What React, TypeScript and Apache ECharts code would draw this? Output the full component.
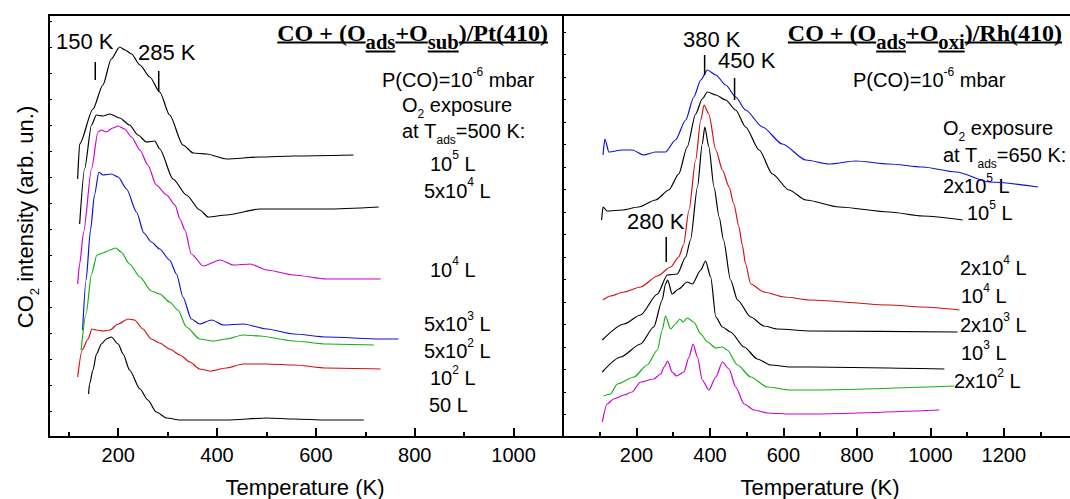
import React, { useEffect, useRef } from "react";
import * as echarts from "echarts";

const SANS = '"Liberation Sans", Arial, Helvetica, sans-serif';
const SERIF = '"Liberation Serif", "Times New Roman", Times, serif';

const BLACK = "#000000";
const MAGENTA = "#cc00cc";
const BLUE = "#1010d8";
const GREEN = "#12b012";
const RED = "#d01010";

// ---- Pt(410) panel: [temperature (K), CO2 intensity (arb. un.)] ----
const pt1e5: [number, number][] = [[118,258],[122,293],[149,328],[169,352],[186,378],[203,390],[214,387],[227,383],[244,372],[264,360],[284,345],[304,322],[331,292],[352,284],[379,283],[419,278],[487,280],[555,281],[676,282]];
const pt5e4: [number, number][] = [[122,213],[132,268],[146,312],[156,322],[169,321],[183,323],[203,319],[223,312],[240,302],[257,295],[274,296],[284,288],[311,258],[338,242],[365,227],[382,220],[419,222],[487,228],[555,228],[622,228],[727,230]];
const pt1e4: [number, number][] = [[118,153],[122,173],[130,205],[146,268],[159,305],[166,307],[176,305],[189,309],[200,311],[213,308],[227,300],[244,287],[260,272],[277,252],[298,242],[315,232],[325,218],[335,207],[348,183],[372,171],[406,177],[433,172],[467,173],[501,167],[555,162],[622,158],[731,158]];
const pt5e3: [number, number][] = [[128,107],[135,157],[144,207],[152,242],[161,265],[169,262],[186,263],[200,260],[217,248],[237,225],[252,204],[267,195],[284,188],[304,177],[318,163],[331,140],[348,118],[365,113],[389,117],[413,112],[453,113],[501,108],[555,103],[622,100],[731,98],[767,98]];
const pt5e2: [number, number][] = [[125,87],[135,123],[146,163],[157,182],[169,184],[183,187],[195,189],[206,185],[223,173],[244,160],[267,146],[284,143],[304,135],[321,127],[338,110],[365,98],[392,96],[419,98],[453,102],[487,101],[555,96],[622,93],[717,92]];
const pt1e2: [number, number][] = [[118,60],[127,87],[139,98],[147,108],[156,107],[169,106],[183,107],[200,113],[220,118],[233,117],[250,108],[267,98],[284,94],[304,88],[325,82],[345,75],[365,68],[386,66],[419,69],[453,73],[501,73],[555,72],[622,69],[731,68]];
const pt50: [number, number][] = [[140,43],[142,53],[149,67],[156,83],[166,93],[176,98],[186,100],[200,93],[210,83],[223,67],[244,48],[260,37],[277,25],[298,19],[325,17],[365,17],[419,17],[501,19],[555,18],[622,17],[697,17]];

// ---- Rh(410) panel ----
const rh2e5: [number, number][] = [[109,282],[114,298],[125,285],[161,287],[188,287],[220,282],[252,285],[279,285],[306,297],[334,317],[356,340],[375,357],[393,367],[416,362],[443,352],[470,340],[497,327],[543,310],[597,293],[661,277],[724,273],[797,276],[888,273],[979,270],[1070,265],[1161,255],[1293,250]];
const rh1e5: [number, number][] = [[105,217],[109,230],[120,226],[161,227],[206,230],[252,237],[288,247],[315,263],[338,290],[361,323],[379,338],[393,345],[416,342],[443,337],[470,327],[497,310],[534,287],[570,263],[615,247],[661,237],[752,230],[888,225],[979,221],[1088,217]];
const rh2e4: [number, number][] = [[109,137],[129,141],[166,145],[211,150],[257,161],[293,170],[315,180],[328,192],[343,227],[361,277],[375,317],[384,332],[397,323],[416,287],[434,267],[452,250],[465,233],[479,210],[488,192],[497,173],[511,153],[547,145],[602,140],[675,137],[888,132],[979,130],[1079,127]];
const rh1e4: [number, number][] = [[107,97],[166,113],[211,122],[257,143],[284,162],[311,163],[334,180],[347,197],[366,250],[379,293],[386,310],[397,290],[411,250],[425,220],[437,197],[456,157],[475,137],[511,120],[547,111],[584,108],[675,106],[1074,105]];
const rh2e3: [number, number][] = [[107,65],[157,80],[211,93],[247,110],[270,137],[279,153],[285,157],[297,143],[315,148],[338,155],[352,153],[375,167],[388,176],[402,160],[416,120],[434,110],[456,105],[493,90],[529,78],[565,72],[620,70],[675,70],[1038,68]];
const rh1e3: [number, number][] = [[111,41],[129,43],[148,53],[193,60],[229,72],[257,87],[270,107],[279,121],[293,108],[306,113],[318,118],[327,115],[338,119],[356,115],[375,103],[393,95],[416,89],[434,90],[447,87],[475,72],[511,60],[556,50],[620,47],[675,47],[1065,51]];
const rh2e2: [number, number][] = [[107,15],[120,33],[138,38],[166,42],[188,45],[211,55],[247,58],[266,63],[275,70],[285,76],[297,65],[309,61],[329,65],[343,80],[354,93],[366,80],[379,57],[397,47],[416,60],[434,75],[452,68],[470,50],[493,33],[520,27],[556,24],[620,23],[675,23],[1024,27]];

// peak markers: [temperature, intensity from, intensity to]
const ptMarks: [number, number, number][] = [[153.6, 357, 375], [282, 345, 366]];
const rhMarks: [number, number, number][] = [[385.5, 362, 382], [467, 337, 359], [281, 175, 200]];

// axes
const ptRange = [60, 1100];
const rhRange = [0, 1380];
const intensityMax = 422;
const ptMajor = [200, 400, 600, 800, 1000];
const ptMinor = [100, 300, 500, 700, 900];
const rhMajor = [200, 400, 600, 800, 1000, 1200];
const rhMinor = [100, 300, 500, 700, 900, 1100, 1300];

type Kind = "n" | "sup" | "sub";
type Part = [string, Kind?];

let ctx: CanvasRenderingContext2D | null = null;
function measure(text: string, size: number, family: string, weight: string): number {
  if (!ctx) ctx = document.createElement("canvas").getContext("2d");
  if (!ctx) return text.length * size * 0.55;
  ctx.font = `${weight} ${size}px ${family}`;
  return ctx.measureText(text).width;
}

function run(parts: Part[], x: number, y: number, size: number, align: "left" | "center" | "right" = "left",
  family = SANS, weight = "normal", subScale = 0.6, supDy = -0.42, subDy = 0.45): any[] {
  const items = parts.map(([t, k]) => {
    const kind = k || "n";
    const s = kind === "n" ? size : size * subScale;
    return { t, kind, s, w: measure(t, s, family, weight) };
  });
  const total = items.reduce((a, b) => a + b.w, 0);
  let cx = align === "left" ? x : align === "center" ? x - total / 2 : x - total;
  return items.map((it) => {
    const dy = it.kind === "sup" ? supDy * size : it.kind === "sub" ? subDy * size : 0;
    const el = {
      type: "text", x: cx, y: y + dy, silent: true,
      style: { text: it.t, fontSize: it.s, fontFamily: family, fontWeight: weight, fill: "#000",
        textAlign: "left", textVerticalAlign: "middle", verticalAlign: "middle" },
      _w: it.w, _kind: it.kind,
    };
    cx += it.w;
    return el;
  });
}

function title(parts: Part[], xRight: number, y: number): any[] {
  const size = 24;
  const els = run(parts, xRight, y, size, "right", SERIF, "bold", 0.86, 0, 0.36);
  const lines: any[] = [];
  els.forEach((e) => {
    const uy = e._kind === "sub" ? y + 18.5 : y + 9.5;
    lines.push({ type: "line", silent: true, shape: { x1: e.x, y1: uy, x2: e.x + e._w, y2: uy }, style: { stroke: "#000", lineWidth: 2 } });
  });
  return [...els.map(({ _w, _kind, ...r }) => r), ...lines];
}

function clean(els: any[]) {
  return els.map(({ _w, _kind, ...r }) => r);
}

function buildOption() {
  const L = 20;
  const g: any[] = [];
  g.push({ type: "line", silent: true, shape: { x1: 48, y1: 15, x2: 1070, y2: 15 }, style: { stroke: "#000", lineWidth: 2 } });
  // Pt panel texts
  g.push(...clean(run([["150 K"]], 56, 41, 22)));
  g.push(...clean(run([["285 K"]], 138, 52, 22)));
  g.push(...title([["CO + (O"], ["ads", "sub"], ["+O"], ["sub", "sub"], [")/Pt(410)"]], 548, 33));
  g.push(...clean(run([["P(CO)=10"], ["-6", "sup"], [" mbar"]], 382, 80, L)));
  g.push(...clean(run([["O"], ["2", "sub"], [" exposure"]], 402, 104.5, L)));
  g.push(...clean(run([["at T"], ["ads", "sub"], ["=500 K:"]], 402, 130.5, L)));
  g.push(...clean(run([["10"], ["5", "sup"], [" L"]], 430, 163.5, L)));
  g.push(...clean(run([["5x10"], ["4", "sup"], [" L"]], 424, 190.5, L)));
  g.push(...clean(run([["10"], ["4", "sup"], [" L"]], 430, 269.5, L)));
  g.push(...clean(run([["5x10"], ["3", "sup"], [" L"]], 424, 324, L)));
  g.push(...clean(run([["5x10"], ["2", "sup"], [" L"]], 424, 351, L)));
  g.push(...clean(run([["10"], ["2", "sup"], [" L"]], 430, 378, L)));
  g.push(...clean(run([["50 L"]], 429, 404.5, L)));
  // Rh panel texts
  g.push(...clean(run([["380 K"]], 683, 39.5, 22)));
  g.push(...clean(run([["450 K"]], 718, 60.5, 22)));
  g.push(...clean(run([["280 K"]], 627, 221.5, 22)));
  g.push(...title([["CO + (O"], ["ads", "sub"], ["+O"], ["oxi", "sub"], [")/Rh(410)"]], 1062, 33));
  g.push(...clean(run([["P(CO)=10"], ["-6", "sup"], [" mbar"]], 853, 80, L)));
  g.push(...clean(run([["O"], ["2", "sub"], [" exposure"]], 943, 128, L)));
  g.push(...clean(run([["at T"], ["ads", "sub"], ["=650 K:"]], 943, 155, L)));
  g.push(...clean(run([["2x10"], ["5", "sup"], [" L"]], 943, 186, L)));
  g.push(...clean(run([["10"], ["5", "sup"], [" L"]], 967, 213, L)));
  g.push(...clean(run([["2x10"], ["4", "sup"], [" L"]], 960, 268, L)));
  g.push(...clean(run([["10"], ["4", "sup"], [" L"]], 961, 296, L)));
  g.push(...clean(run([["2x10"], ["3", "sup"], [" L"]], 960, 325, L)));
  g.push(...clean(run([["10"], ["3", "sup"], [" L"]], 961, 353, L)));
  g.push(...clean(run([["2x10"], ["2", "sup"], [" L"]], 954, 381, L)));
  // axis names
  g.push(...clean(run([["Temperature (K)"]], 305, 487, 22, "center")));
  g.push(...clean(run([["Temperature (K)"]], 820, 487, 22, "center")));
  g.push({ type: "group", x: 25, y: 217, rotation: Math.PI / 2, silent: true,
    children: clean(run([["CO"], ["2", "sub"], [" intensity (arb. un.)"]], 0, 0, 22, "center")) });

  const major = (grid: number, range: number[], ticks: number[]) => ({
    type: "value", gridIndex: grid, min: range[0], max: range[1], position: "bottom",
    axisLine: { show: true, onZero: false, lineStyle: { color: "#000", width: 2 } },
    axisTick: { show: true, inside: true, length: 9, lineStyle: { color: "#000", width: 2 }, customValues: ticks },
    axisLabel: { show: true, customValues: ticks, color: "#000", fontSize: 20, fontFamily: SANS, margin: 8,
      formatter: (v: number) => String(v) },
    splitLine: { show: false },
  });
  const minor = (grid: number, range: number[], ticks: number[]) => ({
    type: "value", gridIndex: grid, min: range[0], max: range[1], position: "bottom",
    axisLine: { show: false },
    axisTick: { show: true, inside: true, length: 5, lineStyle: { color: "#000", width: 2 }, customValues: ticks },
    axisLabel: { show: false }, splitLine: { show: false },
  });
  const yax = (grid: number, interval: number) => ({
    type: "value", gridIndex: grid, min: 0, max: intensityMax, interval, position: "left",
    axisLine: { show: true, onZero: false, lineStyle: { color: "#000", width: 2 } },
    axisTick: { show: true, inside: true, length: 3, lineStyle: { color: "#000", width: 1 } },
    axisLabel: { show: false }, splitLine: { show: false },
  });

  const curve = (data: [number, number][], color: string, xi: number, yi: number) => ({
    type: "line", data, xAxisIndex: xi, yAxisIndex: yi, symbol: "none", showSymbol: false,
    smooth: 0.25, smoothMonotone: "x",
    lineStyle: { color, width: 1.2 }, silent: true, clip: true,
  });
  const marks = (m: [number, number, number][], xi: number, yi: number) => m.map(([t, a, b]) => ({
    type: "line", data: [[t, a], [t, b]], xAxisIndex: xi, yAxisIndex: yi, symbol: "none",
    lineStyle: { color: "#000", width: 1.5 }, silent: true,
  }));

  return {
    animation: false,
    backgroundColor: "#ffffff",
    grid: [
      { left: 49, top: 15, width: 514, height: 422 },
      { left: 563, top: 15, width: 507, height: 422 },
    ],
    xAxis: [major(0, ptRange, ptMajor), minor(0, ptRange, ptMinor), major(1, rhRange, rhMajor), minor(1, rhRange, rhMinor)],
    yAxis: [yax(0, 26), yax(1, 22.5)],
    series: [
      curve(pt1e5, BLACK, 0, 0), curve(pt5e4, BLACK, 0, 0), curve(pt1e4, MAGENTA, 0, 0),
      curve(pt5e3, BLUE, 0, 0), curve(pt5e2, GREEN, 0, 0), curve(pt1e2, RED, 0, 0), curve(pt50, BLACK, 0, 0),
      curve(rh2e5, BLUE, 2, 1), curve(rh1e5, BLACK, 2, 1), curve(rh2e4, RED, 2, 1), curve(rh1e4, BLACK, 2, 1),
      curve(rh2e3, BLACK, 2, 1), curve(rh1e3, GREEN, 2, 1), curve(rh2e2, MAGENTA, 2, 1),
      ...marks(ptMarks, 0, 0), ...marks(rhMarks, 2, 1),
    ],
    graphic: { elements: g },
  };
}

export default function App() {
  const ref = useRef<HTMLDivElement>(null);
  useEffect(() => {
    document.body.style.margin = "0";
    const chart = echarts.init(ref.current!, undefined, { renderer: "svg", width: 1070, height: 499 });
    chart.setOption(buildOption() as any);
    return () => chart.dispose();
  }, []);
  return <div ref={ref} style={{ width: 1070, height: 499, background: "#fff" }} />;
}
